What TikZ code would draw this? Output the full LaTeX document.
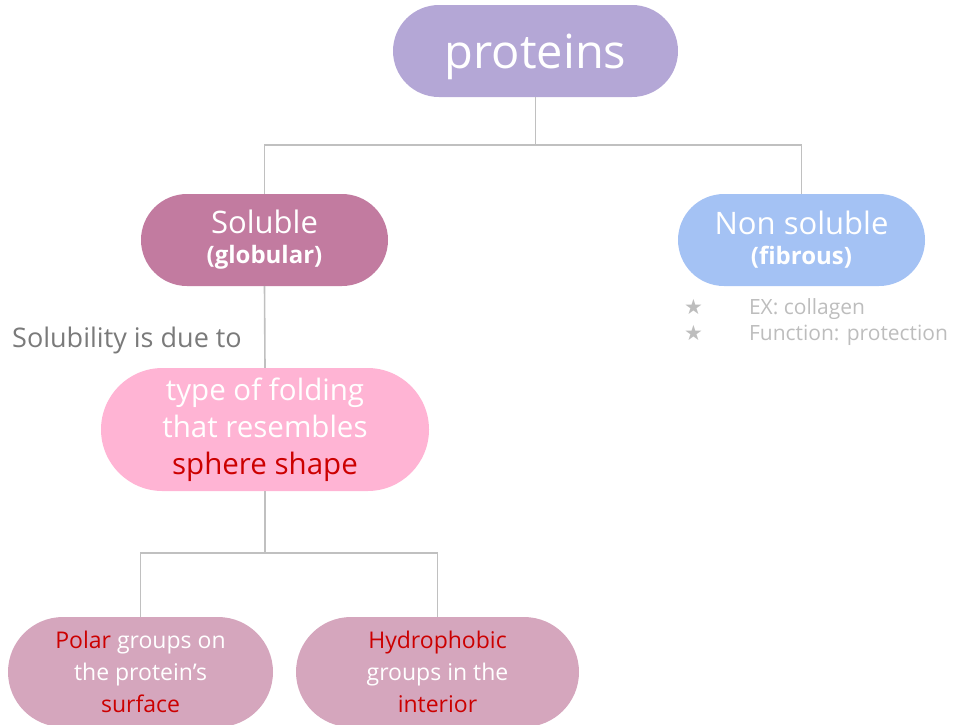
\documentclass[tikz,border=0pt]{standalone}
\usepackage{fontspec}
\setmainfont{Open Sans}
\newfontfamily\starfont{DejaVu Sans}
\usetikzlibrary{shapes.misc,positioning}
\definecolor{topviolet}{HTML}{B4A7D6}
\definecolor{solmauve}{HTML}{C27BA0}
\definecolor{fibblue}{HTML}{A4C2F4}
\definecolor{foldpink}{HTML}{FFB4D4}
\definecolor{grouppink}{HTML}{D5A6BD}
\definecolor{keyred}{HTML}{CC0000}
\definecolor{linegray}{HTML}{C0C0C0}
\definecolor{notegray}{HTML}{7A7A7A}
\definecolor{factgray}{HTML}{BDBDBD}
\newcommand{\hugetxt}{\fontsize{47}{50}\selectfont}
\newcommand{\midtxt}{\fontsize{31}{34}\selectfont}
\newcommand{\subtxt}{\fontsize{24}{26}\selectfont\bfseries}
\newcommand{\hl}[1]{\textcolor{keyred}{#1}}

\begin{document}
\begin{tikzpicture}[x=1pt,y=-1pt]
\tikzset{
  pill/.style={rounded rectangle, draw=none, text=white, align=center, inner sep=0pt},
  link/.style={linegray, line width=1.6pt}
}
\useasboundingbox (0,0) rectangle (957,724);

% Top level
\node[pill, fill=topviolet, minimum width=285pt, minimum height=92pt, text depth=0pt] (proteins) at (535.5,51) {\hugetxt proteins};

% Two classes
\node[pill, fill=solmauve, minimum width=247pt, minimum height=92pt, font=\midtxt] (soluble) at (264.5,240)
  {Soluble\\[-4pt]{\subtxt (globular)}};
\node[pill, fill=fibblue, minimum width=247pt, minimum height=92pt, font=\midtxt] (nonsoluble) at (801.5,240)
  {Non soluble\\[-4pt]{\subtxt (fibrous)}};

\draw[link] (proteins.south) -- ++(0,48) -| (soluble.north);
\draw[link] (proteins.south) -- ++(0,48) -| (nonsoluble.north);

% Facts on fibrous proteins
\node[anchor=north west, text=factgray, inner sep=0pt, font=\fontsize{21}{26}\selectfont] (facts) at (684,296)
  {\begin{tabular}{@{}l@{\hspace{46pt}}l@{}}
   {\starfont ★} & EX: collagen\\
   {\starfont ★} & Function: protection
   \end{tabular}};

% Cause of solubility
\node[pill, fill=foldpink, minimum width=328pt, minimum height=123pt, font=\fontsize{29.5}{37}\selectfont] (folding) at (265,429.5)
  {type of folding\\that resembles\\\hl{sphere shape}};
\draw[link] (soluble.south) -- (folding.north);
\node[anchor=west, text=notegray, inner sep=0pt, font=\fontsize{27}{30}\selectfont] (due) at (12,340) {Solubility is due to};

% Groups
\foreach \name/\x/\w/\txt in {polar/140.5/265/{\hl{Polar} groups on\\the protein's\\\hl{surface}},
                             hydro/437.5/283/{\hl{Hydrophobic}\\groups in the\\\hl{interior}}} {
  \node[pill, fill=grouppink, minimum width=\w pt, minimum height=110pt, font=\fontsize{23}{32}\selectfont] (\name) at (\x,672) {\txt};
  \draw[link] (folding.south) -- ++(0,62) -| (\name.north);
}

\end{tikzpicture}
\end{document}
